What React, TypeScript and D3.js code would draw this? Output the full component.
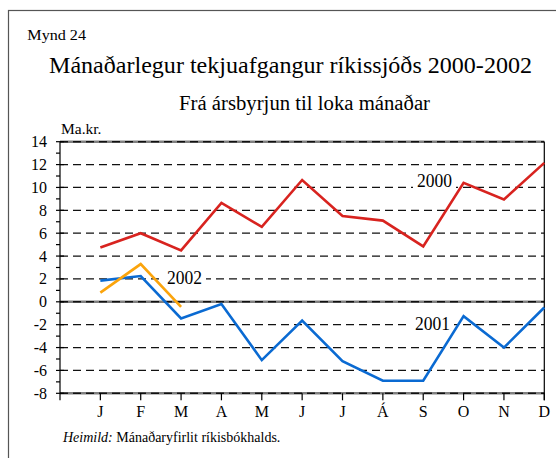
import React from "react";
import * as d3 from "d3";

const months = ["J", "F", "M", "A", "M", "J", "J", "Á", "S", "O", "N", "D"];
const values2000 = [4.75, 6.0, 4.5, 8.65, 6.55, 10.65, 7.5, 7.1, 4.85, 10.4, 8.95, 12.15];
const values2001 = [1.85, 2.25, -1.45, -0.2, -5.1, -1.65, -5.2, -6.9, -6.9, -1.25, -4.0, -0.5];
const values2002 = [0.8, 3.3, -0.45];
const yTicks = [14, 12, 10, 8, 6, 4, 2, 0, -2, -4, -6, -8];
const minorTicks = [13, 11, 9, 7, 5, 3, 1, -1, -3, -5, -7];

const W = 556;
const H = 458;
const FONT = "Liberation Serif";
const ts = { fontFamily: "'Liberation Serif', serif" };

export default function App() {
  const x = d3.scaleLinear().domain([0, 12]).range([60, 544.3]);
  const y = d3.scaleLinear().domain([-8, 14]).range([393.3, 141.7]);
  const line = d3
    .line<number>()
    .x((_, i) => x(i + 1))
    .y((d) => y(d));

  const series = [
    { data: values2000, color: "#d8231f" },
    { data: values2001, color: "#0a6ad2" },
    { data: values2002, color: "#fba40c" },
  ];

  const labels = [
    { text: "2000", x: 417, y: 187.3 },
    { text: "2001", x: 415, y: 330 },
    { text: "2002", x: 167, y: 284 },
  ];

  return (
    <svg width={W} height={H} style={{ position: "absolute", left: 0, top: 0 }}>
      <rect x={0} y={0} width={W} height={H} fill="#fff" />
      <rect x={8.5} y={10.5} width={600} height={500} fill="none" stroke="#555" strokeWidth={1.2} />

      <text x={27.3} y={40} fontFamily={FONT} style={ts} fontSize={15} textLength={58.7} lengthAdjust="spacingAndGlyphs">
        Mynd 24
      </text>
      <text x={49} y={73} fontFamily={FONT} style={ts} fontSize={23.5} textLength={483} lengthAdjust="spacingAndGlyphs">
        Mánaðarlegur tekjuafgangur ríkissjóðs 2000-2002
      </text>
      <text x={179} y={110} fontFamily={FONT} style={ts} fontSize={20} textLength={251} lengthAdjust="spacingAndGlyphs">
        Frá ársbyrjun til loka mánaðar
      </text>
      <text x={61} y={134} fontFamily={FONT} style={ts} fontSize={14.5} textLength={40.5} lengthAdjust="spacingAndGlyphs">
        Ma.kr.
      </text>

      {/* gridlines */}
      {yTicks.map((t) => {
        const edge = t === 14 || t === 0 || t === -8;
        return (
          <g key={"g" + t}>
            {edge && (
              <line x1={x(0)} x2={x(12)} y1={y(t)} y2={y(t)} stroke="#808080" strokeWidth={2.4} />
            )}
            <line
              x1={x(0)}
              x2={x(12)}
              y1={y(t)}
              y2={y(t)}
              stroke="#111"
              strokeWidth={edge ? 1.4 : 1.2}
              strokeDasharray="8,5"
            />
          </g>
        );
      })}

      {/* axes */}
      <line x1={x(0)} x2={x(0)} y1={y(14)} y2={y(-8) + 7} stroke="#000" strokeWidth={1.2} />
      <line x1={x(12)} x2={x(12)} y1={y(14)} y2={y(-8) + 7} stroke="#000" strokeWidth={1.2} />
      {yTicks.map((t) => (
        <line key={"mt" + t} x1={x(0) - 4} x2={x(0) + 4} y1={y(t)} y2={y(t)} stroke="#000" strokeWidth={1.2} />
      ))}
      {minorTicks.map((t) => (
        <line key={"nt" + t} x1={x(0) - 4} x2={x(0)} y1={y(t)} y2={y(t)} stroke="#000" strokeWidth={1.2} />
      ))}
      {months.map((m, i) => (
        <line
          key={"xt" + i}
          x1={x(i + 1)}
          x2={x(i + 1)}
          y1={y(-8)}
          y2={y(-8) + 7}
          stroke="#000"
          strokeWidth={1.2}
        />
      ))}
      {yTicks.map((t) => (
        <text key={"yl" + t} x={47} y={y(t) + 5.5} fontFamily={FONT} style={ts} fontSize={16} textAnchor="end">
          {String(t)}
        </text>
      ))}
      {months.map((m, i) => (
        <text key={"xl" + i} x={x(i + 1)} y={417} fontFamily={FONT} style={ts} fontSize={16} textAnchor="middle">
          {m}
        </text>
      ))}

      {/* series labels */}
      {labels.map((l) => (
        <g key={l.text}>
          <rect x={l.x - 4} y={l.y - 14} width={43} height={18} fill="#fff" />
          <text x={l.x} y={l.y} fontFamily={FONT} style={ts} fontSize={18} textLength={35} lengthAdjust="spacingAndGlyphs">
            {l.text}
          </text>
        </g>
      ))}

      {/* lines */}
      {series.map((s, i) => (
        <path
          key={"s" + i}
          d={line(s.data) || ""}
          fill="none"
          stroke={s.color}
          strokeWidth={2.6}
          strokeLinejoin="miter"
        />
      ))}

      <text x={63} y={442} fontFamily={FONT} style={ts} fontSize={14}>
        <tspan fontStyle="italic">Heimild:</tspan> Mánaðaryfirlit ríkisbókhalds.
      </text>
    </svg>
  );
}
